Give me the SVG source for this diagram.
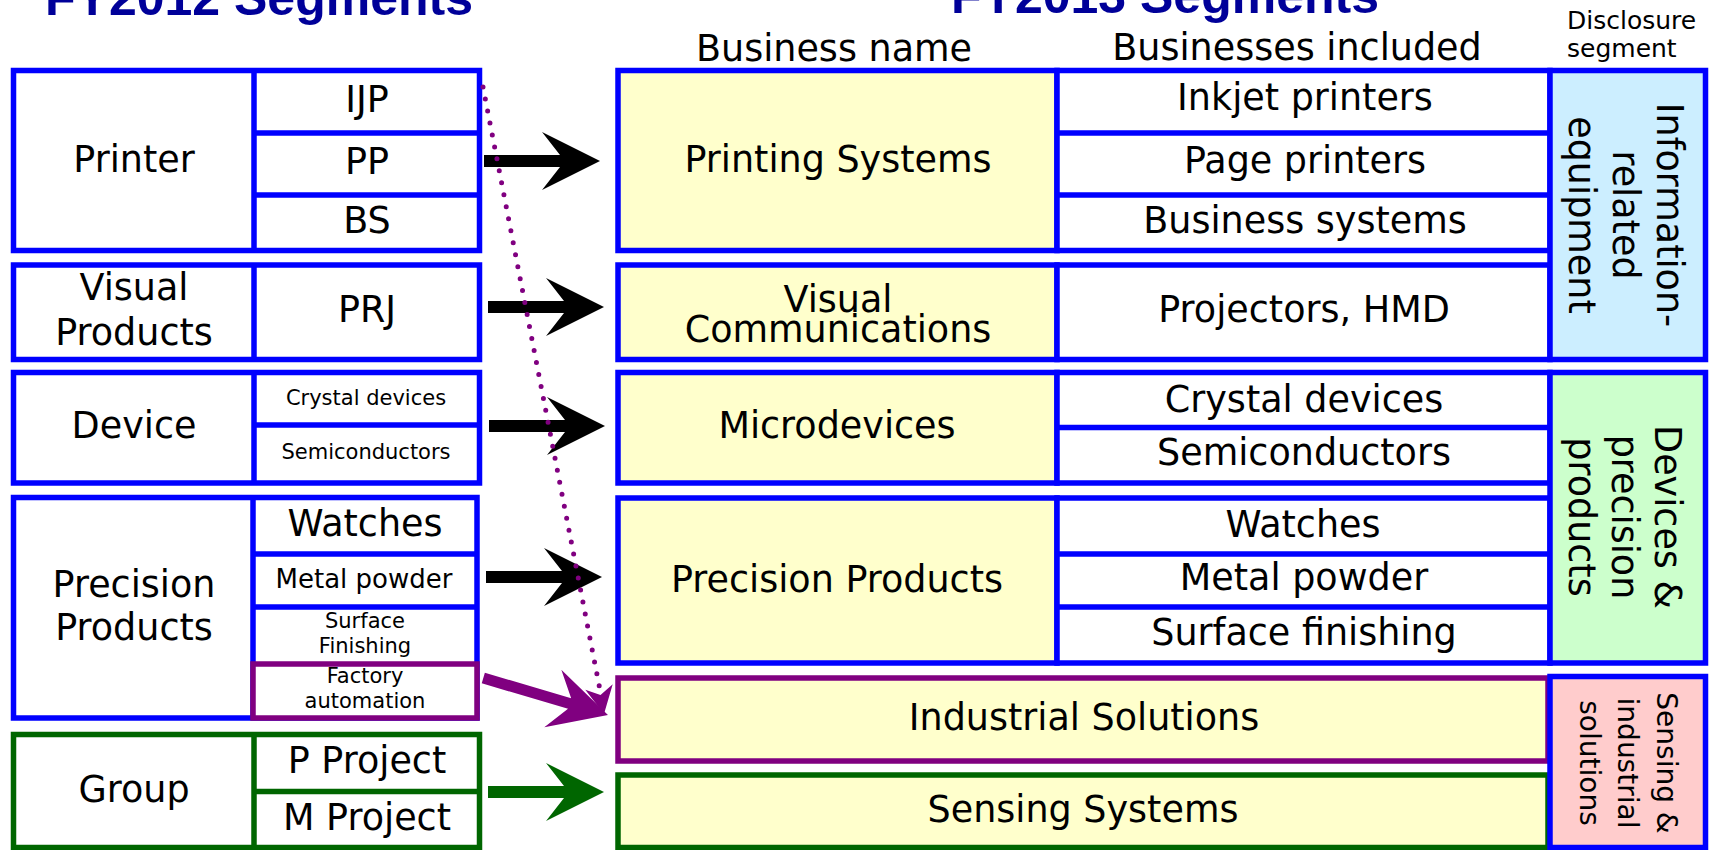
<svg xmlns="http://www.w3.org/2000/svg" xmlns:xlink="http://www.w3.org/1999/xlink" width="1712" height="850" viewBox="0 0 1712 850">
<style>
.bw{fill:#ffffff;stroke:#0000ff;stroke-width:5.5}
.by{fill:#ffffcc;stroke:#0000ff;stroke-width:5.5}
.bl{stroke:#0000ff;stroke-width:5.5}
.gw{fill:#ffffff;stroke:#006600;stroke-width:5.5}
.gy{fill:#ffffcc;stroke:#006600;stroke-width:5.5}
.gl{stroke:#006600;stroke-width:5.5}
.pw{fill:#ffffff;stroke:#800080;stroke-width:5.5}
.py{fill:#ffffcc;stroke:#800080;stroke-width:5.5}
.t{font-family:"DejaVu Sans",sans-serif;font-size:36.5px;text-anchor:middle;fill:#000}
.s21{font-size:21px}
.s26{font-size:26px}
.title{font-family:"Liberation Sans",Arial,sans-serif;font-weight:bold;font-size:50px;text-anchor:middle;fill:#000099}
.hd{font-family:"DejaVu Sans",sans-serif;font-size:25px;fill:#000}
</style>
<defs>
<path id="arr" d="M0,-6 H76 L58,-29 L116,0 L58,29 L76,6 H0 Z"/>
</defs>
<rect width="1712" height="850" fill="#ffffff"/>

<g id="titles">
<text class="title" x="259" y="15">FY2012 Segments</text>
<text class="title" x="1165" y="13">FY2013 Segments</text>
<text class="t" x="834" y="61">Business name</text>
<text class="t" x="1297" y="60">Businesses included</text>
<text class="hd" x="1567" y="29">Disclosure</text>
<text class="hd" x="1567" y="57">segment</text>
</g>

<g id="old-printer">
<rect class="bw" x="13.5" y="70.5" width="466" height="180"/>
<line class="bl" x1="254" y1="70.5" x2="254" y2="250.5"/>
<line class="bl" x1="254" y1="133" x2="479.5" y2="133"/>
<line class="bl" x1="254" y1="195" x2="479.5" y2="195"/>
<text class="t" x="134" y="172">Printer</text>
<text class="t" x="367" y="112">IJP</text>
<text class="t" x="367" y="174">PP</text>
<text class="t" x="367" y="233">BS</text>
</g>

<g id="old-visual">
<rect class="bw" x="13.5" y="265" width="466" height="94.5"/>
<line class="bl" x1="254" y1="265" x2="254" y2="359.5"/>
<text class="t" x="134" y="300">Visual</text>
<text class="t" x="134" y="345">Products</text>
<text class="t" x="367" y="322">PRJ</text>
</g>

<g id="old-device">
<rect class="bw" x="13.5" y="372.5" width="466" height="110.5"/>
<line class="bl" x1="254" y1="372.5" x2="254" y2="483"/>
<line class="bl" x1="254" y1="425" x2="479.5" y2="425"/>
<text class="t" x="134" y="438">Device</text>
<text class="t s21" x="366" y="405">Crystal devices</text>
<text class="t s21" x="366" y="459">Semiconductors</text>
</g>

<g id="old-precision">
<rect class="bw" x="13.5" y="497.5" width="463.5" height="220.5"/>
<line class="bl" x1="253" y1="497.5" x2="253" y2="718"/>
<line class="bl" x1="253" y1="554" x2="477" y2="554"/>
<line class="bl" x1="253" y1="607" x2="477" y2="607"/>
<text class="t" x="134" y="597">Precision</text>
<text class="t" x="134" y="640">Products</text>
<text class="t" x="365" y="536">Watches</text>
<text class="t s26" x="364" y="588">Metal powder</text>
<text class="t s21" x="365" y="628">Surface</text>
<text class="t s21" x="365" y="653">Finishing</text>
</g>

<g id="old-factory">
<rect class="pw" x="253" y="664" width="224" height="54"/>
<text class="t s21" x="365" y="683">Factory</text>
<text class="t s21" x="365" y="708">automation</text>
</g>

<g id="old-group">
<rect class="gw" x="13.5" y="734.5" width="466" height="113"/>
<line class="gl" x1="254" y1="734.5" x2="254" y2="847.5"/>
<line class="gl" x1="254" y1="791.5" x2="479.5" y2="791.5"/>
<text class="t" x="134" y="802">Group</text>
<text class="t" x="367" y="773">P Project</text>
<text class="t" x="367" y="830">M Project</text>
</g>

<g id="new-printing">
<rect class="by" x="618" y="70.5" width="439" height="180"/>
<rect class="bw" x="1057" y="70.5" width="493" height="180"/>
<line class="bl" x1="1057" y1="133" x2="1550" y2="133"/>
<line class="bl" x1="1057" y1="195" x2="1550" y2="195"/>
<text class="t" x="838" y="172">Printing Systems</text>
<text class="t" x="1305" y="110">Inkjet printers</text>
<text class="t" x="1305" y="173">Page printers</text>
<text class="t" x="1305" y="233">Business systems</text>
</g>

<g id="new-visual">
<rect class="by" x="618" y="265" width="439" height="94.5"/>
<rect class="bw" x="1057" y="265" width="493" height="94.5"/>
<text class="t" x="838" y="312">Visual</text>
<text class="t" x="838" y="342">Communications</text>
<text class="t" x="1304" y="322">Projectors, HMD</text>
</g>

<g id="new-micro">
<rect class="by" x="618" y="372.5" width="439" height="110.5"/>
<rect class="bw" x="1057" y="372.5" width="493" height="110.5"/>
<line class="bl" x1="1057" y1="427.5" x2="1550" y2="427.5"/>
<text class="t" x="837" y="438">Microdevices</text>
<text class="t" x="1304" y="412">Crystal devices</text>
<text class="t" x="1304" y="465">Semiconductors</text>
</g>

<g id="new-precision">
<rect class="by" x="618" y="498" width="439" height="165"/>
<rect class="bw" x="1057" y="498" width="493" height="165"/>
<line class="bl" x1="1057" y1="554" x2="1550" y2="554"/>
<line class="bl" x1="1057" y1="607" x2="1550" y2="607"/>
<text class="t" x="837" y="592">Precision Products</text>
<text class="t" x="1303" y="537">Watches</text>
<text class="t" x="1304" y="590">Metal powder</text>
<text class="t" x="1304" y="645">Surface finishing</text>
</g>

<g id="new-industrial">
<rect class="py" x="618" y="678" width="930" height="83"/>
<text class="t" x="1084" y="730">Industrial Solutions</text>
</g>

<g id="new-sensing">
<rect class="gy" x="618" y="775" width="930" height="72.5"/>
<text class="t" x="1083" y="822">Sensing Systems</text>
</g>

<g id="seg-info">
<rect x="1550" y="70.5" width="155.5" height="289" fill="#cceeff" stroke="#0000ff" stroke-width="5.5"/>
<g transform="translate(0,215)">
<text class="t" transform="translate(1657,0) rotate(90)">Information-</text>
<text class="t" transform="translate(1613,0) rotate(90)">related</text>
<text class="t" transform="translate(1569,0) rotate(90)">equipment</text>
</g>
</g>

<g id="seg-devices">
<rect x="1550" y="372.5" width="155.5" height="290.5" fill="#ccffcc" stroke="#0000ff" stroke-width="5.5"/>
<g transform="translate(0,517)">
<text class="t" transform="translate(1655,0) rotate(90)">Devices &amp;</text>
<text class="t" transform="translate(1612,0) rotate(90)">precision</text>
<text class="t" transform="translate(1569,0) rotate(90)">products</text>
</g>
</g>

<g id="seg-sensing">
<rect x="1550" y="676.5" width="155.5" height="171" fill="#ffcccc" stroke="#0000ff" stroke-width="5.5"/>
<g transform="translate(0,763)">
<text class="t" style="font-size:28px" transform="translate(1657,0) rotate(90)">Sensing &amp;</text>
<text class="t" style="font-size:28px" transform="translate(1618,0) rotate(90)">industrial</text>
<text class="t" style="font-size:28px" transform="translate(1580,0) rotate(90)">solutions</text>
</g>
</g>

<g id="connectors">
<use xlink:href="#arr" href="#arr" transform="translate(484,161)" fill="#000000"/>
<use xlink:href="#arr" href="#arr" transform="translate(488,307)" fill="#000000"/>
<use xlink:href="#arr" href="#arr" transform="translate(489,426)" fill="#000000"/>
<use xlink:href="#arr" href="#arr" transform="translate(486,577)" fill="#000000"/>
<use xlink:href="#arr" href="#arr" transform="translate(488,792)" fill="#006600"/>
<path transform="translate(483.3,678) rotate(16.5)" d="M0,-5.5 H90 L72.5,-30 L130,0 L72.5,30 L90,5.5 H0 Z" fill="#800080"/>
<line x1="483" y1="87" x2="600" y2="690" stroke="#800080" stroke-width="5" stroke-dasharray="0 12.2" stroke-linecap="round"/>
<polygon points="604,714 585.3,689.7 600.5,695 612.7,684.3" fill="#800080"/>
</g>
</svg>
